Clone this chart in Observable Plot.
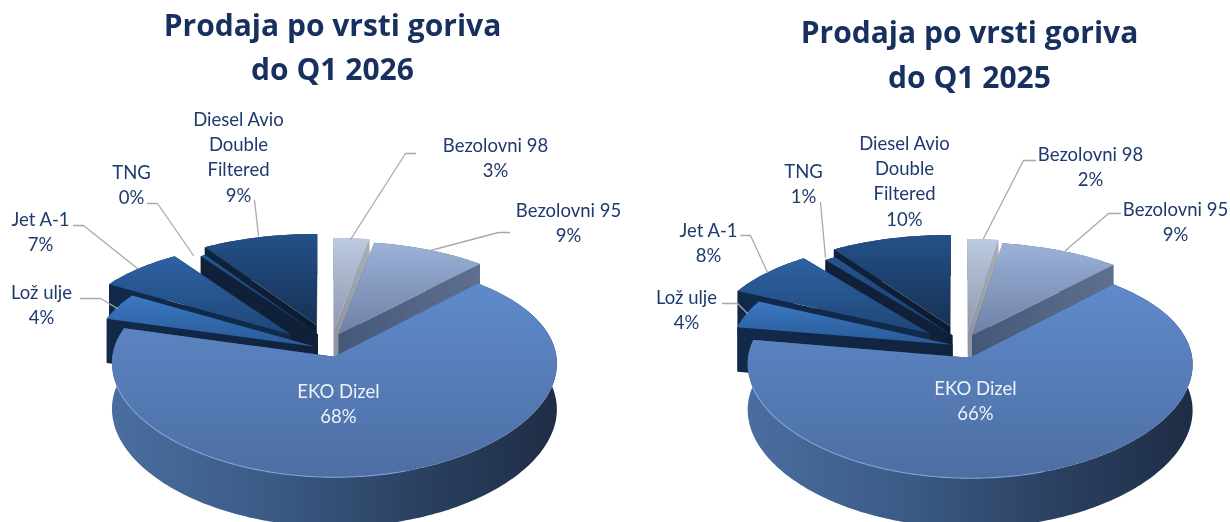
<!DOCTYPE html>
<html><head><meta charset="utf-8">
<script src="https://cdn.jsdelivr.net/npm/d3@7"></script>
<script src="https://cdn.jsdelivr.net/npm/@observablehq/plot@0.6"></script>
<style>
html,body{margin:0;padding:0;background:#fff;overflow:hidden}
svg{display:block;filter:blur(.65px)}
</style></head><body><div id="chart"></div>
<script>
// ---- data
const categories = ["Bezolovni 98","Bezolovni 95","EKO Dizel","Lož ulje","Jet A-1","TNG","Diesel Avio\nDouble\nFiltered"];
const values2026 = [2.8, 9.0, 67.6, 4.2, 6.9, 0.4, 9.1];
const values2025 = [2.4, 9.4, 65.9, 4.4, 7.5, 0.9, 9.5];
const titleText = "Prodaja po vrsti goriva";
const periods = ["do Q1 2026","do Q1 2025"];

// ---- layout (view geometry, not data)
const slicePaint = ["b98","b95","eko","loz","jet","tng","die"];
const drawOrder = [6,5,4,3,0,1,2];
const layouts = [
  {cx:325, cy:340, R:220, A:104, D:45,
   shift:[[.037,.10],[.06,.06],[.04,-.154],[-.045,-.06],[-.16,.06],[-.035,.06],[-.04,.15]],
   titleX:332, titleY:[26,70],
   labels:[[495,156],[568,221],[338,402],[41,303],[40,230],[131,183],[238,155]],
   leaders:[[[350,239],[405,153],[415,153]],[[430,250],[498,232],[509,232]],null,
            [[117,308],[100,298],[80,298]],[[137,268],[83,225],[73,225]],[[193,255],[157,203],[147,203]],[[258,235],[254,200]]]},
  {cx:958.5, cy:341, R:220, A:104, D:45,
   shift:[[.04,.10],[.06,.06],[.05,-.154],[-.03,-.03],[-.135,.08],[-.03,.06],[-.04,.15]],
   titleX:969, titleY:[33,78],
   labels:[[1090,165],[1175,220],[975,399],[686,308],[708,241],[803,182],[904,179]],
   leaders:[[[983,238],[1023,160],[1035,160]],[[1065,250],[1108,213],[1120,213]],null,
            [[747,313],[737,303],[722,303]],[[767,272],[750,235],[740,235]],[[825,257],[820,202]],null]}
];
const kx=.06, ky=.106, kd=.08;

function project(L,wx,wy,z){
  return {x:L.cx+L.R*wx/(1+kx*wy), y:L.cy-L.A*wy/(1+ky*wy)+z*L.D/(1+kd*wy)};
}
function slicePolys(L,values){
  const total=d3.sum(values); let c=0; const out=[];
  values.forEach((v,i)=>{
    const a0=c/total*2*Math.PI; c+=v; const a1=c/total*2*Math.PI;
    const [ox,oy]=L.shift[i];
    const n=Math.max(3,Math.ceil((a1-a0)/0.02));
    const arc=d3.range(n+1).map(k=>a0+(a1-a0)*k/n);
    const at=(a,z)=>project(L,ox+Math.sin(a),oy+Math.cos(a),z);
    const apex=z=>project(L,ox,oy,z);
    out[i]={
      top:[apex(0),...arc.map(a=>at(a,0))],
      wall:[...arc.map(a=>at(a,0)),...arc.slice().reverse().map(a=>at(a,1))],
      sideA:[apex(0),at(a0,0),at(a0,1),apex(1)],
      sideB:[apex(0),at(a1,0),at(a1,1),apex(1)],
      rim:arc.filter(a=>a>Math.PI*.9&&a<Math.PI*1.42).map(a=>at(a,0))
    };
  });
  return out;
}

// ---- gradients
const grads={
  "top-b98":[90,["#bccae2","#8f98ab"]],"side-b98":[0,["#8d93a2","#a9adb8"]],"wall-b98":[0,["#8d93a2","#a9adb8"]],
  "top-b95":[90,["#9cb2d8","#6e80a6"]],"side-b95":[0,["#45587a","#5f6f8e"]],"wall-b95":[0,["#45587a","#5f6f8e"]],
  "top-eko":[90,["#5f8acb","#4d6ea3"]],"side-eko":[0,["#4d74a8","#1d2c44"]],"wall-eko":[0,["#4a6e9f","#3c5c88","#2c4263","#1e2d45"]],
  "top-loz":[90,["#3c78c2","#285a98"]],"side-loz":[0,["#12294a","#10233e"]],"wall-loz":[0,["#14304f","#12294a"]],
  "top-jet":[90,["#2d62a3","#1f4677"]],"side-jet":[0,["#10294a","#122a4a"]],"wall-jet":[0,["#14304f","#122a4a"]],
  "top-tng":[90,["#245490","#1a3d69"]],"side-tng":[0,["#0f2038","#0f2038"]],"wall-tng":[0,["#0f2038","#0f2038"]],
  "top-die":[90,["#24518a","#163155"]],"side-die":[0,["#10233d","#0c1a2e"]],"wall-die":[0,["#10233d","#0c1a2e"]]
};
function defsMark(){
  const g=d3.create("svg:g"); const defs=g.append("defs");
  for(const [id,[dir,stops]] of Object.entries(grads)){
    const lg=defs.append("linearGradient").attr("id",id)
      .attr("x1",0).attr("y1",0).attr("x2",dir?0:1).attr("y2",dir?1:0);
    stops.forEach((s,i)=>lg.append("stop").attr("offset",i/(stops.length-1)).attr("stop-color",s));
  }
  return g.node();
}
const poly=(pts,fill)=>Plot.line(pts,{x:"x",y:"y",fill,stroke:"none",curve:"linear"});
const ink="#1f3a6e";

const marks=[defsMark];
[values2026,values2025].forEach((values,pi)=>{
  const L=layouts[pi]; const polys=slicePolys(L,values);
  for(const i of drawOrder){
    const p=polys[i], k=slicePaint[i];
    marks.push(poly(p.wall,`url(#wall-${k})`));
    marks.push(poly(p.sideA,`url(#side-${k})`));
    marks.push(poly(p.sideB,`url(#side-${k})`));
    marks.push(poly(p.top,`url(#top-${k})`));
    if(k==="eko") marks.push(Plot.line(p.rim,{x:"x",y:"y",stroke:"#7fa6dc",strokeWidth:1.2,strokeOpacity:.8,curve:"linear"}));
  }
  L.leaders.forEach(l=>{ if(l) marks.push(Plot.line(l,{x:d=>d[0],y:d=>d[1],stroke:"#a9a9a9",strokeWidth:1.3,curve:"linear"})); });
  const labelData=categories.map((c,i)=>({t:`${c}\n${Math.round(values[i])}%`,x:L.labels[i][0],y:L.labels[i][1],eko:i===2}));
  marks.push(Plot.text(labelData.filter(d=>!d.eko),{x:"x",y:"y",text:"t",fill:ink,fontSize:18.5,lineHeight:1.37,fontFamily:"Lato",textAnchor:"middle",lineAnchor:"middle"}));
  marks.push(Plot.text(labelData.filter(d=>d.eko),{x:"x",y:"y",text:"t",fill:"#eef2f8",fontSize:18.5,lineHeight:1.37,fontFamily:"Lato",textAnchor:"middle",lineAnchor:"middle"}));
  marks.push(Plot.text([titleText,periods[pi]],{x:L.titleX,y:(d,i)=>L.titleY[i],text:d=>d,fill:"#17305f",fontSize:30,fontWeight:700,fontFamily:"Open Sans",textAnchor:"middle",lineAnchor:"middle"}));
});

const chart=Plot.plot({width:1230,height:522,margin:0,
  style:{background:"#fff",overflow:"hidden"},
  x:{domain:[0,1230],range:[0,1230],axis:null},
  y:{domain:[0,522],range:[0,522],axis:null},
  marks});
document.getElementById("chart").append(chart);
</script></body></html>
